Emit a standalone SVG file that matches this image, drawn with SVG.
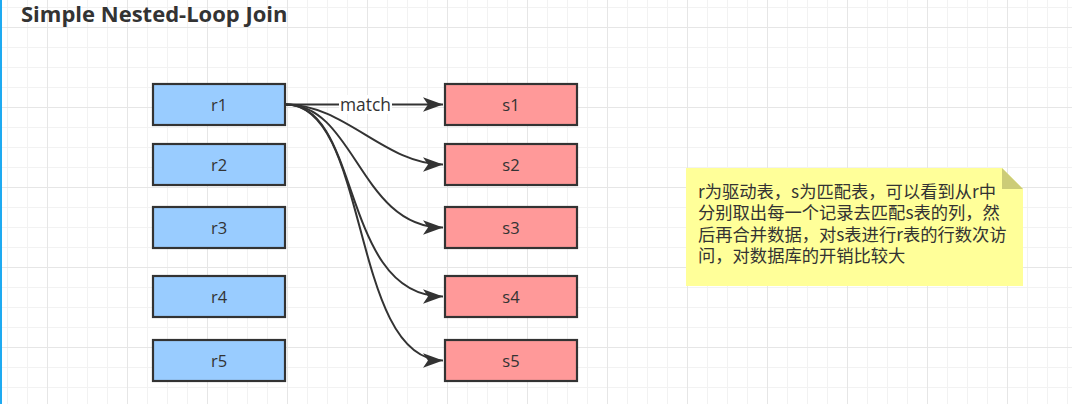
<svg xmlns="http://www.w3.org/2000/svg" width="1072" height="404" viewBox="0 0 1072 404">
  <style>
    .title { font-family: "Open Sans", "Liberation Sans", sans-serif; font-weight: 700; font-size: 22px; fill: #333333; }
    .lbl { font-family: "Open Sans", "Liberation Sans", sans-serif; font-size: 16.5px; fill: #333333; text-anchor: middle; }
    .r { fill: #99ccff; stroke: #333333; stroke-width: 2.2; }
    .s { fill: #ff9999; stroke: #333333; stroke-width: 2.2; }
    .edge { fill: none; stroke: #333333; stroke-width: 2; marker-end: url(#arrow); }
    .elbl { font-family: "Open Sans", "Liberation Sans", sans-serif; font-size: 17.4px; fill: #333333; text-anchor: middle; }
    .note { font-family: "Noto Sans CJK SC", sans-serif; font-size: 17.3px; fill: #333333; }
  </style>
  <defs>
    <pattern id="grid" patternUnits="userSpaceOnUse" x="47" y="27" width="80" height="80">
      <rect width="80" height="80" fill="#ffffff"/>
      <path d="M20.5,0V80M40.5,0V80M60.5,0V80M0,20.5H80M0,40.5H80M0,60.5H80" stroke="#f2f2f2" stroke-width="1" fill="none"/>
      <path d="M0.5,0V80M0,0.5H80" stroke="#e6e6e6" stroke-width="1" fill="none"/>
    </pattern>
    <marker id="arrow" markerUnits="userSpaceOnUse" viewBox="-21 -9 22 18" markerWidth="22" markerHeight="18" refX="0" refY="0" orient="auto">
      <path d="M0,0L-20,-7.2L-15,0L-20,7.2Z" fill="#333333"/>
    </marker>
  </defs>

  <rect width="1072" height="404" fill="url(#grid)"/>
  <rect x="0" y="0" width="2" height="404" fill="#1eaaf1"/>

  <text class="title" x="21" y="22">Simple Nested-Loop Join</text>

  <g id="connectors">
    <path class="edge" d="M286,104.5L443,104.5"/>
    <path class="edge" d="M286,104.5C345,104.5 385,164.5 443,164.5"/>
    <path class="edge" d="M286,104.5C355,104.5 360,227.5 443,227.5"/>
    <path class="edge" d="M286,104.5C362,104.5 340,296.5 443,296.5"/>
    <path class="edge" d="M286,104.5C370,104.5 350,360.5 443,360.5"/>
    <g id="edge-label">
      <rect x="339" y="95" width="53" height="19" fill="#ffffff"/>
      <text class="elbl" x="365.5" y="110.5">match</text>
    </g>
  </g>

  <g id="r1"><rect class="r" x="153" y="84" width="132" height="41"/><text class="lbl" x="219" y="110.5">r1</text></g>
  <g id="r2"><rect class="r" x="153" y="144" width="132" height="41"/><text class="lbl" x="219" y="170.5">r2</text></g>
  <g id="r3"><rect class="r" x="153" y="207" width="132" height="41"/><text class="lbl" x="219" y="233.5">r3</text></g>
  <g id="r4"><rect class="r" x="153" y="276" width="132" height="41"/><text class="lbl" x="219" y="302.5">r4</text></g>
  <g id="r5"><rect class="r" x="153" y="340" width="132" height="41"/><text class="lbl" x="219" y="366.5">r5</text></g>

  <g id="s1"><rect class="s" x="445" y="84" width="132" height="41"/><text class="lbl" x="511" y="110.5">s1</text></g>
  <g id="s2"><rect class="s" x="445" y="144" width="132" height="41"/><text class="lbl" x="511" y="170.5">s2</text></g>
  <g id="s3"><rect class="s" x="445" y="207" width="132" height="41"/><text class="lbl" x="511" y="233.5">s3</text></g>
  <g id="s4"><rect class="s" x="445" y="276" width="132" height="41"/><text class="lbl" x="511" y="302.5">s4</text></g>
  <g id="s5"><rect class="s" x="445" y="340" width="132" height="41"/><text class="lbl" x="511" y="366.5">s5</text></g>

  <g id="note">
    <path d="M686,168H1002L1023,189V286H686Z" fill="#ffff99"/>
    <path d="M1002,168V189H1023Z" fill="#cccc77"/>
    <text class="note" x="698">
      <tspan x="698" y="197.5">r为驱动表，s为匹配表，可以看到从r中</tspan>
      <tspan x="698" y="219">分别取出每一个记录去匹配s表的列，然</tspan>
      <tspan x="698" y="240.5">后再合并数据，对s表进行r表的行数次访</tspan>
      <tspan x="698" y="262">问，对数据库的开销比较大</tspan>
    </text>
  </g>
</svg>
